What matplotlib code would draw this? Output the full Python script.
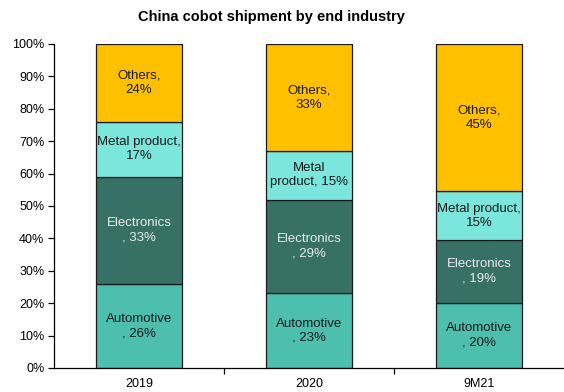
import matplotlib
matplotlib.use("Agg")
import matplotlib.pyplot as plt
import numpy as np

plt.rcParams['font.family'] = ['Liberation Sans', 'DejaVu Sans']

periods = ["2019", "2020", "9M21"]
segments = ["Automotive", "Electronics", "Metal product", "Others"]
automotive = [26, 23, 20]
electronics = [33, 29, 19]
metal_product = [17, 15, 15]
others = [24, 33, 45]

seg_values = [automotive, electronics, metal_product, others]
seg_colors = ["#4DBFAE", "#377166", "#7AE6DC", "#FFC000"]
seg_text_colors = ["#1a1a1a", "#EAEAEA", "#1a1a1a", "#1a1a1a"]

# in-bar labels, one list per segment
seg_labels = [
    ["Automotive\n, {}%"] * 3,
    ["Electronics\n, {}%"] * 3,
    ["Metal product,\n{}%", "Metal\nproduct, {}%", "Metal product,\n{}%"],
    ["Others,\n{}%"] * 3,
]

data = np.array(seg_values, dtype=float)
shares = data / data.sum(axis=0) * 100  # 100% stacked

fig = plt.figure(figsize=(5.64, 3.92), dpi=100)
ax = fig.add_axes([54 / 564, 24 / 392, 510 / 564, 324 / 392])

x = np.arange(len(periods))
bottom = np.zeros(len(periods))
for i, seg in enumerate(segments):
    ax.bar(x, shares[i], width=0.505, bottom=bottom, color=seg_colors[i],
           edgecolor="#1a1a1a", linewidth=0.9, label=seg)
    for j in range(len(periods)):
        ax.text(x[j], bottom[j] + shares[i][j] / 2,
                seg_labels[i][j].format(int(data[i][j])),
                ha="center", va="center", fontsize=9.5,
                color=seg_text_colors[i], linespacing=1.25)
    bottom += shares[i]

ax.set_xlim(-0.5, 2.5)
ax.set_ylim(0, 100)
ax.set_yticks(np.arange(0, 101, 10))
ax.set_yticklabels([f"{v}%" for v in range(0, 101, 10)], fontsize=9)
ax.set_xticks(x)
ax.set_xticklabels(periods, fontsize=9)
ax.tick_params(axis="x", length=0, pad=7)
ax.set_xticks([0.5, 1.5], minor=True)
ax.tick_params(axis="x", which="minor", length=4, width=0.9, direction="out")
ax.tick_params(axis="y", length=4, width=0.9, direction="out", pad=3)

for s in ["top", "right"]:
    ax.spines[s].set_visible(False)
ax.spines["left"].set_linewidth(0.9)
ax.spines["bottom"].set_linewidth(0.9)

fig.suptitle("China cobot shipment by end industry", x=271 / 564, y=0.975,
             fontsize=10.5, fontweight="bold", va="top")

fig.savefig("out.png", dpi=100)
